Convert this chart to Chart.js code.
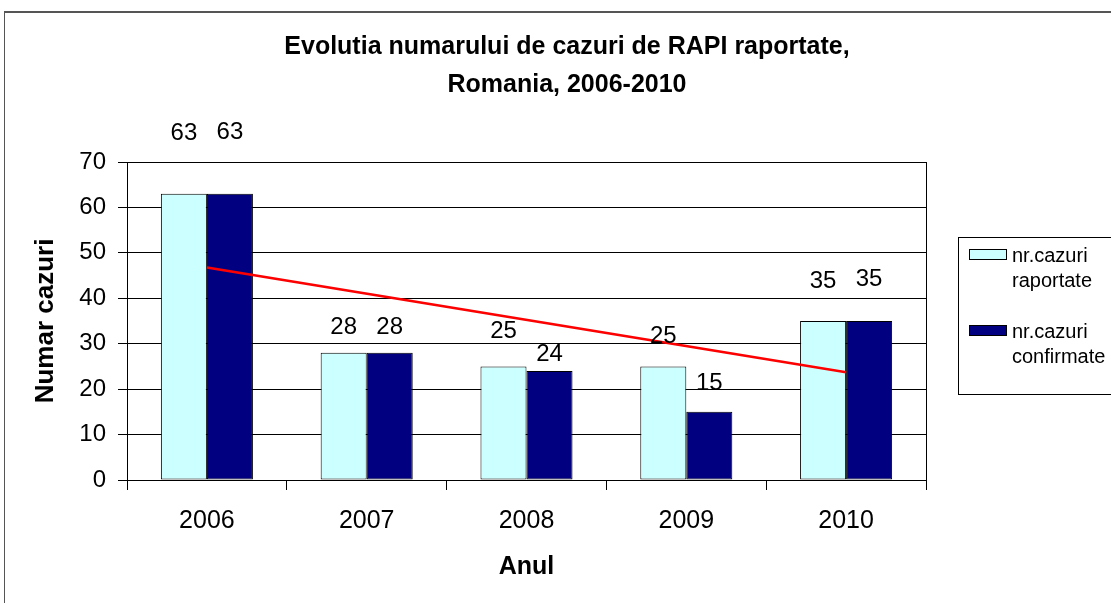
<!DOCTYPE html>
<html>
<head>
<meta charset="utf-8">
<script src="https://cdn.jsdelivr.net/npm/chart.js@4"></script>
<style>
  html, body { margin: 0; padding: 0; background: #fff; }
</style>
</head>
<body>
<canvas id="chart1" width="1111" height="603"></canvas>
<script>
const years = ['2006', '2007', '2008', '2009', '2010'];
const reported = [63, 28, 25, 25, 35];
const confirmed = [63, 28, 24, 15, 35];
const trend = [46.8, null, null, null, 23.7];
const yTicks = [0, 10, 20, 30, 40, 50, 60, 70];

// how far (px) each value label sits above its bar, as placed in the original
const labelLift = [[60, 25, 35, 30, 40], [61, 25, 17, 28, 42]];

const FONT = "'Liberation Sans', Arial, sans-serif";

const framePlugin = {
    id: 'frame',
    beforeDraw(chart) {
        const ctx = chart.ctx;
        ctx.save();
        ctx.fillStyle = '#fff';
        ctx.fillRect(0, 0, chart.width, chart.height);
        ctx.strokeStyle = '#555';
        ctx.lineWidth = 2;
        ctx.beginPath();
        ctx.moveTo(4, 12);
        ctx.lineTo(chart.width, 12);
        ctx.stroke();
        ctx.lineWidth = 1;
        ctx.beginPath();
        ctx.moveTo(4.5, 11);
        ctx.lineTo(4.5, chart.height);
        ctx.stroke();
        ctx.restore();
    }
};

const valueLabels = {
    id: 'valueLabels',
    afterDatasetsDraw(chart) {
        const ctx = chart.ctx;
        ctx.save();
        ctx.font = '24px ' + FONT;
        ctx.fillStyle = '#000';
        ctx.textAlign = 'center';
        ctx.textBaseline = 'middle';
        [0, 1].forEach(function (i) {
            const meta = chart.getDatasetMeta(i);
            meta.data.forEach(function (bar, j) {
                ctx.fillText(String(chart.data.datasets[i].data[j]), bar.x, bar.y - labelLift[i][j]);
            });
        });
        ctx.restore();
    }
};

const boxLegend = {
    id: 'boxLegend',
    afterDraw(chart) {
        const ctx = chart.ctx;
        const left = chart.chartArea.right + 32;
        const top = 237;
        ctx.save();
        ctx.strokeStyle = '#000';
        ctx.lineWidth = 1;
        ctx.strokeRect(left + 0.5, top + 0.5, 200, 157);
        ctx.font = '20px ' + FONT;
        ctx.textBaseline = 'middle';
        ctx.textAlign = 'left';
        [0, 1].forEach(function (i) {
            const ds = chart.data.datasets[i];
            const sy = top + 12 + i * 76;
            ctx.fillStyle = ds.backgroundColor;
            ctx.fillRect(left + 11.5, sy + 0.5, 37, 10);
            ctx.strokeRect(left + 11.5, sy + 0.5, 37, 10);
            ctx.fillStyle = '#000';
            ds.label.split(' ').forEach(function (line, k) {
                ctx.fillText(line, left + 54, sy + 7 + k * 25);
            });
        });
        ctx.restore();
    }
};

new Chart(document.getElementById('chart1').getContext('2d'), {
    type: 'bar',
    data: {
        labels: years,
        datasets: [{
            label: 'nr.cazuri raportate',
            data: reported,
            backgroundColor: '#CCFFFF',
            borderColor: '#000',
            borderWidth: 1,
            borderSkipped: false,
            categoryPercentage: 0.576,
            barPercentage: 1,
            order: 1
        }, {
            label: 'nr.cazuri confirmate',
            data: confirmed,
            backgroundColor: '#000080',
            borderColor: '#000',
            borderWidth: 1,
            borderSkipped: false,
            categoryPercentage: 0.576,
            barPercentage: 1,
            order: 1
        }, {
            type: 'line',
            label: 'trend',
            data: trend,
            spanGaps: true,
            borderColor: '#FF0000',
            borderWidth: 2.5,
            pointRadius: 0,
            order: 0
        }]
    },
    options: {
        responsive: false,
        animation: false,
        layout: { padding: { left: 23, right: 0, top: 0, bottom: 0 } },
        plugins: {
            legend: { display: false },
            tooltip: { enabled: false },
            title: {
                display: true,
                text: ['Evolutia numarului de cazuri de RAPI raportate,', 'Romania, 2006-2010'],
                color: '#000',
                font: { family: FONT, size: 25, weight: 'bold', lineHeight: 1.52 },
                padding: { top: 28, bottom: 58 }
            }
        },
        scales: {
            x: {
                offset: true,
                grid: { offset: true, drawOnChartArea: false, color: '#000', tickLength: 10 },
                border: { color: '#000' },
                ticks: { color: '#000', padding: 16, font: { family: FONT, size: 25 } },
                title: {
                    display: true,
                    text: 'Anul',
                    color: '#000',
                    font: { family: FONT, size: 25, weight: 'bold', lineHeight: 1.2 },
                    padding: { top: 0, bottom: 21 }
                },
                afterFit: function (scale) { scale.height = 123; }
            },
            y: {
                min: 0,
                max: 70,
                afterBuildTicks: function (scale) { scale.ticks = yTicks.map(v => ({ value: v })); },
                grid: { color: '#000', tickLength: 9 },
                border: { color: '#000' },
                ticks: { color: '#000', padding: 12, font: { family: FONT, size: 24 } },
                title: {
                    display: true,
                    text: 'Numar cazuri',
                    color: '#000',
                    font: { family: FONT, size: 26, weight: 'bold', lineHeight: 1.2 },
                    padding: { top: 7, bottom: 0 }
                },
                afterFit: function (scale) { scale.width = 104; }
            },
            y2: {
                position: 'right',
                min: 0,
                max: 70,
                grid: { display: false },
                border: { display: true, color: '#000' },
                ticks: { display: false },
                afterFit: function (scale) { scale.width = 185; }
            }
        }
    },
    plugins: [framePlugin, valueLabels, boxLegend]
});
</script>
</body>
</html>
